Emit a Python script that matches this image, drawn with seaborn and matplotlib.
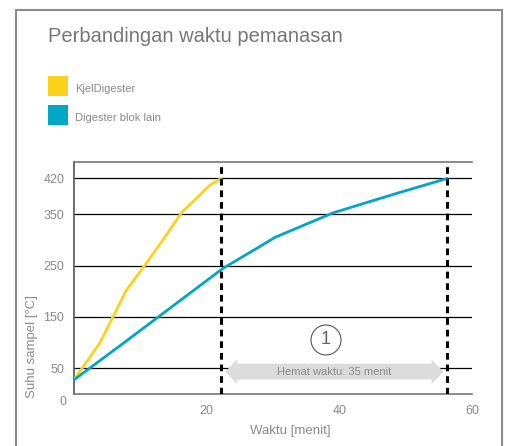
import numpy as np
import pandas as pd
import seaborn as sns
import matplotlib.pyplot as plt
from matplotlib.patches import Rectangle, Polygon, Ellipse

# Data
kjel_time = [0, 3.9, 7.9, 10.7, 13.2, 16.2, 20.5, 22.2]
kjel_temp = [27, 99, 202, 251, 296, 353, 407, 420]
blok_time = [0, 7.7, 22.4, 28.0, 30.3, 39.1, 48.7, 56.3]
blok_temp = [27, 101, 244, 287, 305, 353, 391, 420]
y_ticks = [50, 150, 250, 350, 420]
x_ticks = [20, 40, 60]
series_names = ["KjelDigester", "Digester blok lain"]
saving_label = "Hemat waktu: 35 menit"

YELLOW = "#fdd21b"
BLUE = "#00a6c6"
GREY_TXT = "#8a8a8a"

data = pd.concat([
    pd.DataFrame({"waktu": kjel_time, "suhu": kjel_temp, "alat": series_names[0]}),
    pd.DataFrame({"waktu": blok_time, "suhu": blok_temp, "alat": series_names[1]}),
])

sns.set_style("white")
plt.rcParams["font.family"] = ["Liberation Sans", "DejaVu Sans"]

fig = plt.figure(figsize=(5.06, 4.46), dpi=100)
ax = fig.add_axes([74 / 506, 1 - 393.7 / 446, 398 / 506, 231.7 / 446])

# outer frame
fig.patches.append(Rectangle((16 / 506, -0.05), 486 / 506, 1.05 - 10 / 446,
                             transform=fig.transFigure, fill=False,
                             edgecolor="#8c8c8c", lw=1.5))

# grid lines
for yv in y_ticks:
    ax.axhline(yv, color="black", lw=0.9, zorder=1)

sns.lineplot(data=data, x="waktu", y="suhu", hue="alat",
             palette={series_names[0]: YELLOW, series_names[1]: BLUE},
             lw=2, sort=False, estimator=None, legend=False, ax=ax, zorder=3)

kjel_end = kjel_time[-1]
blok_end = blok_time[-1]
for xv in [kjel_end, blok_end]:
    ax.axvline(xv, color="black", lw=2.2, ls=(0, (2.2, 1.6)), zorder=4)

ax.set_xlim(0, 60)
ax.set_ylim(0, 452)

# double arrow with label
yc, body, head, hl = 43, 15.5, 24, 1.8
x0, x1 = kjel_end + 0.6, blok_end - 0.6
arrow = Polygon([(x0, yc), (x0 + hl, yc + head), (x0 + hl, yc + body),
                 (x1 - hl, yc + body), (x1 - hl, yc + head), (x1, yc),
                 (x1 - hl, yc - head), (x1 - hl, yc - body),
                 (x0 + hl, yc - body), (x0 + hl, yc - head)],
                closed=True, facecolor="#dcdcdc", edgecolor="none", zorder=5)
ax.add_patch(arrow)
ax.text((x0 + x1) / 2, yc, saving_label, ha="center", va="center",
        fontsize=8, color=GREY_TXT, zorder=6)

# circled number
cx, cy = 326 / 506, 1 - 340 / 446
fig.patches.append(Ellipse((cx, cy), 30 / 506, 30 / 446, transform=fig.transFigure,
                           fill=False, edgecolor="#555555", lw=0.8))
fig.text(cx, cy, "1", ha="center", va="center", fontsize=13, color="#666666")

# axes styling
ax.set_xticks(x_ticks)
ax.set_yticks(y_ticks)
ax.tick_params(axis="both", length=0, labelsize=9, labelcolor=GREY_TXT)
ax.tick_params(axis="x", pad=8)
ax.tick_params(axis="y", pad=7)
ax.text(-0.018, -0.01, "0", transform=ax.transAxes, ha="right", va="top",
        fontsize=9, color=GREY_TXT)
ax.set_xlabel("")
ax.set_ylabel("")
for side in ["left", "bottom", "top"]:
    ax.spines[side].set_color("#777777")
    ax.spines[side].set_linewidth(1.2)
ax.spines["left"].set_color("#555555")
ax.spines["right"].set_visible(False)

fig.text(290 / 506, 1 - 431 / 446, "Waktu [menit]", ha="center", va="center",
         fontsize=9.5, color=GREY_TXT)
fig.text(32 / 506, 1 - 347 / 446, "Suhu sampel [°C]", ha="center", va="center",
         rotation=90, fontsize=9.5, color=GREY_TXT)

# title and legend
fig.text(48 / 506, 1 - 37 / 446, "Perbandingan waktu pemanasan", ha="left",
         va="center", fontsize=14.5, color="#777777")
for i, (name, col) in enumerate(zip(series_names, [YELLOW, BLUE])):
    ytop = 76 + i * 29
    fig.patches.append(Rectangle((48 / 506, 1 - (ytop + 20) / 446), 20 / 506, 20 / 446,
                                 transform=fig.transFigure, facecolor=col,
                                 edgecolor="none"))
    fig.text(75 / 506, 1 - (ytop + 13) / 446, name, ha="left", va="center",
             fontsize=8, color=GREY_TXT)

fig.savefig("out.png", dpi=100)
